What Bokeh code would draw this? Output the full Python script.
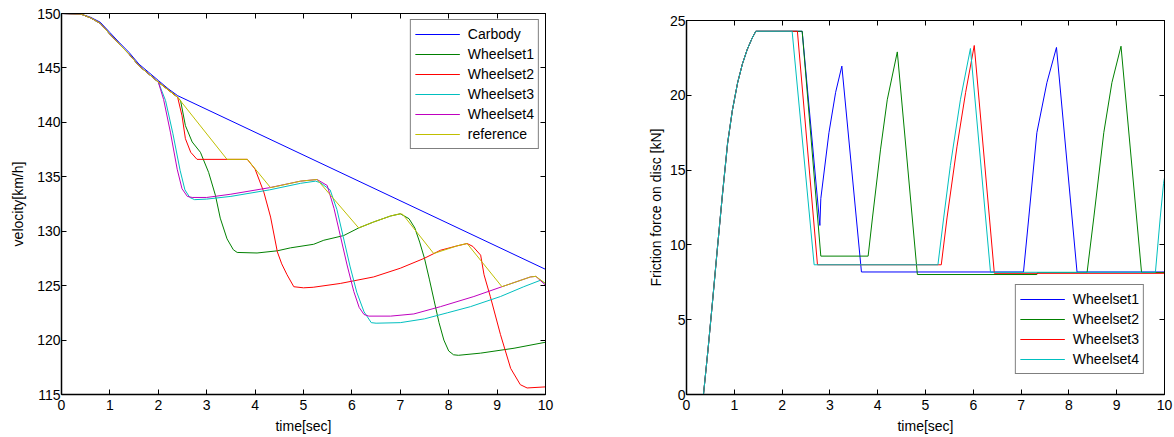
from bokeh.plotting import figure
from bokeh.models import (LinearAxis, Range1d, Legend, LegendItem, FixedTicker,
                          CustomLabelingPolicy)
from bokeh.layouts import row, column
from bokeh.embed import file_html
from bokeh.resources import INLINE

# ---------------- left chart data: velocity [km/h] vs time [sec] ----------------
carbody_t = [0, 0.4, 0.6, 0.8, 1.0, 1.2, 1.4, 1.6, 1.8, 2.0, 2.2, 2.4, 10]
carbody_v = [150, 149.95, 149.65, 149.2, 148.25, 147.3, 146.4, 145.35, 144.6, 143.85, 143.1, 142.45, 126.5]

wheel_shared_t = [0, 0.4, 0.6, 0.8, 1.0, 1.2, 1.4, 1.6, 1.8, 2.0]
wheel_shared_v = [150, 149.95, 149.6, 149.1, 148.1, 147.15, 146.25, 145.2, 144.45, 143.7]

ws1_t = [2.2, 2.4, 2.46, 2.56, 2.70, 2.87, 3.04, 3.18, 3.28, 3.42, 3.55, 3.63, 4.04, 4.46, 4.73, 5.21,
         5.42, 5.83, 6.14, 6.45, 6.80, 7.0, 7.18, 7.3, 7.4, 7.5, 7.6, 7.7, 7.8, 7.9, 8.0, 8.1, 8.2,
         8.66, 9.35, 10]
ws1_v = [143.0, 142.3, 142.0, 139.7, 138.2, 137.25, 135.4, 133.3, 131.2, 129.3, 128.3, 128.05, 128.0,
         128.2, 128.47, 128.8, 129.17, 129.6, 130.3, 130.85, 131.4, 131.6, 131.15, 130.3, 129.0, 127.5,
         125.6, 123.6, 121.6, 120.0, 119.0, 118.65, 118.6, 118.8, 119.25, 119.8]

ws2_t = [2.2, 2.4, 2.49, 2.56, 2.67, 2.80, 3.84, 4.0, 4.18, 4.32, 4.46, 4.55, 4.66, 4.80, 5.0, 5.2,
         5.76, 6.45, 7.0, 7.49, 7.83, 8.17, 8.38, 8.5, 8.66, 8.73, 8.86, 9.07, 9.28, 9.48, 9.62, 10]
ws2_v = [143.0, 142.3, 140.6, 138.5, 137.25, 136.6, 136.6, 135.7, 133.6, 131.3, 128.1, 127.0, 126.0,
         124.9, 124.8, 124.85, 125.2, 125.8, 126.6, 127.5, 128.25, 128.65, 128.87, 128.6, 127.8, 126.0,
         124.0, 120.5, 117.4, 115.9, 115.6, 115.7]

ws3_t = [2.15, 2.3, 2.45, 2.55, 2.65, 2.75, 3.0, 3.5, 4.3, 4.94, 5.25, 5.35, 5.55, 5.69, 5.82, 5.96,
         6.10, 6.25, 6.4, 6.5, 7.0, 7.5, 7.97, 8.45, 9.07, 9.55, 9.90, 10]
ws3_v = [142.0, 139.0, 135.6, 133.8, 133.1, 132.9, 132.95, 133.2, 133.8, 134.4, 134.6, 134.45, 133.8,
         132.0, 129.5, 126.8, 124.4, 122.6, 121.6, 121.55, 121.6, 121.95, 122.5, 123.07, 124.0, 124.9,
         125.5, 125.2]

ws4_t = [2.11, 2.25, 2.39, 2.49, 2.6, 2.7, 3.0, 3.5, 4.3, 4.94, 5.28, 5.49, 5.63, 5.76, 5.90, 6.04,
         6.15, 6.25, 6.35, 6.8, 7.28, 7.83, 8.52, 9.10, 9.69, 9.8, 10]
ws4_v = [142.1, 139.1, 135.7, 133.9, 133.2, 133.1, 133.1, 133.4, 134.0, 134.6, 134.75, 134.2, 132.1,
         129.6, 126.9, 124.45, 123.0, 122.35, 122.2, 122.2, 122.4, 123.07, 124.0, 124.9, 125.8, 125.85,
         125.05]

ref_t = [2.2, 2.4, 3.42, 3.84, 4.32, 4.94, 5.28, 6.14, 6.45, 6.80, 7.0, 7.05, 7.69, 8.17, 8.38, 9.10,
         9.69, 9.8, 10]
ref_v = [143.0, 142.3, 136.6, 136.6, 134.0, 134.6, 134.75, 130.3, 130.85, 131.4, 131.6, 131.55, 127.95,
         128.65, 128.87, 124.9, 125.8, 125.85, 125.2]

vel_names = ["Carbody", "Wheelset1", "Wheelset2", "Wheelset3", "Wheelset4", "reference"]
vel_colors = ["#0000ff", "#008000", "#ff0000", "#00bfbf", "#bf00bf", "#bfbf00"]
vel_yticks = [115, 120, 125, 130, 135, 140, 145, 150]
time_ticks = [0, 1, 2, 3, 4, 5, 6, 7, 8, 9, 10]

# ---------------- right chart data: friction force [kN] vs time [sec] ----------------
ramp_t = [0, 0.355, 0.45, 0.55, 0.65, 0.75, 0.86, 0.96, 1.07, 1.17, 1.27, 1.37, 1.45]
ramp_f = [0, 0, 3.0, 6.4, 9.9, 13.3, 16.8, 19.0, 20.85, 22.1, 23.06, 23.8, 24.28]

fr1_t = [2.42, 2.79, 2.81, 2.98, 3.12, 3.25, 3.66, 7.05, 7.16, 7.33, 7.54, 7.74, 8.17, 10]
fr1_f = [24.28, 11.3, 13.1, 17.5, 20.2, 21.95, 8.19, 8.19, 11.8, 17.5, 20.85, 23.2, 8.19, 8.19]

fr2_t = [2.42, 2.81, 3.80, 3.89, 4.06, 4.20, 4.41, 4.83, 7.33, 7.34, 8.38, 8.52, 8.73, 8.90, 9.09,
         9.52, 10]
fr2_f = [24.28, 9.25, 9.25, 11.8, 16.4, 19.7, 22.9, 8.02, 8.02, 8.15, 8.15, 11.8, 17.5, 20.85, 23.28,
         8.15, 8.15]

fr3_t = [2.32, 2.74, 5.33, 5.45, 5.66, 5.84, 6.02, 6.44, 10]
fr3_f = [24.28, 8.67, 8.67, 11.8, 16.6, 20.2, 23.33, 8.1, 8.1]

fr4_t = [2.21, 2.67, 5.26, 5.38, 5.52, 5.73, 5.94, 6.36, 9.81, 9.91, 9.98, 10]
fr4_f = [24.28, 8.67, 8.67, 11.8, 15.3, 19.7, 23.13, 8.17, 8.17, 11.8, 14.1, 14.5]

fr_names = ["Wheelset1", "Wheelset2", "Wheelset3", "Wheelset4"]
fr_colors = ["#0000ff", "#008000", "#ff0000", "#00bfbf"]
fr_yticks = [0, 5, 10, 15, 20, 25]

FONT = "Liberation Sans"
FS = "14px"


def style_main_axis(ax, ticks, label):
    ax.ticker = FixedTicker(ticks=ticks)
    ax.axis_label = label
    ax.axis_label_text_font = FONT
    ax.axis_label_text_font_size = FS
    ax.axis_label_text_font_style = "normal"
    ax.axis_label_text_color = "black"
    ax.major_label_text_font = FONT
    ax.major_label_text_font_size = FS
    ax.major_label_text_color = "black"
    ax.axis_line_color = "black"
    ax.axis_line_width = 1.5
    ax.major_tick_line_color = "black"
    ax.major_tick_in = 5
    ax.major_tick_out = 0
    ax.minor_tick_line_color = None


def add_mirror_axis(p, ticks, place):
    # tick marks only (MATLAB box style): no labels are drawn on these axes
    no_labels = CustomLabelingPolicy(code="return new Set()")
    ax = LinearAxis(ticker=FixedTicker(ticks=ticks), major_label_text_font_size="1px",
                    major_label_policy=no_labels, major_label_standoff=0,
                    major_tick_in=5, major_tick_out=0,
                    minor_tick_line_color=None, axis_line_color="black",
                    major_tick_line_color="black", axis_label=None)
    p.add_layout(ax, place)


def make_fig(width, height, ml, mr, mt, mb, yr):
    p = figure(width=width, height=height, x_range=Range1d(0, 10), y_range=Range1d(*yr),
               output_backend="svg", toolbar_location=None,
               min_border_left=ml, min_border_right=mr, min_border_top=mt, min_border_bottom=mb)
    p.xgrid.grid_line_color = None
    p.ygrid.grid_line_color = None
    p.outline_line_color = "black"
    p.outline_line_width = 1
    p.background_fill_color = "white"
    p.border_fill_color = "white"
    return p


# ---------------- left figure ----------------
p1 = make_fig(568, 436, 61, 23, 13, 40, (115, 150))
style_main_axis(p1.xaxis[0], time_ticks, "time[sec]")
style_main_axis(p1.yaxis[0], vel_yticks, "velocity[km/h]")
p1.xaxis[0].major_label_standoff = 5
p1.xaxis[0].axis_label_standoff = 5
p1.yaxis[0].major_label_standoff = 1
p1.yaxis[0].axis_label_standoff = 8
add_mirror_axis(p1, time_ticks, "above")
add_mirror_axis(p1, vel_yticks, "right")

vel_series = [
    (carbody_t, carbody_v),
    (wheel_shared_t + ws1_t, wheel_shared_v + ws1_v),
    (wheel_shared_t + ws2_t, wheel_shared_v + ws2_v),
    (wheel_shared_t + ws3_t, wheel_shared_v + ws3_v),
    (wheel_shared_t + ws4_t, wheel_shared_v + ws4_v),
    (wheel_shared_t + ref_t, wheel_shared_v + ref_v),
]
items1 = []
for (tx, vy), name, col in zip(vel_series, vel_names, vel_colors):
    r = p1.line(tx, vy, line_color=col, line_width=1)
    items1.append(LegendItem(label=name, renderers=[r]))

leg1 = Legend(items=items1, location="top_right", margin=6, padding=4, spacing=0,
              label_height=20, glyph_height=20, glyph_width=45, label_standoff=8,
              label_text_font=FONT, label_text_font_size=FS, label_text_color="black",
              border_line_color="black", border_line_width=1, background_fill_color="white",
              background_fill_alpha=1.0)
p1.add_layout(leg1)

# ---------------- right figure ----------------
p2 = make_fig(606, 436, 118, 10, 20, 40, (0, 25))
style_main_axis(p2.xaxis[0], time_ticks, "time[sec]")
style_main_axis(p2.yaxis[0], fr_yticks, "Friction force on disc [kN]")
p2.xaxis[0].major_label_standoff = 5
p2.xaxis[0].axis_label_standoff = 5
p2.yaxis[0].major_label_standoff = 1
p2.yaxis[0].axis_label_standoff = 3
add_mirror_axis(p2, time_ticks, "above")
add_mirror_axis(p2, fr_yticks, "right")

fr_series = [
    (ramp_t + fr1_t, ramp_f + fr1_f),
    (ramp_t + fr2_t, ramp_f + fr2_f),
    (ramp_t + fr3_t, ramp_f + fr3_f),
    (ramp_t + fr4_t, ramp_f + fr4_f),
]
items2 = []
for (tx, fy), name, col in zip(fr_series, fr_names, fr_colors):
    r = p2.line(tx, fy, line_color=col, line_width=1)
    items2.append(LegendItem(label=name, renderers=[r]))

leg2 = Legend(items=items2, location="bottom_right", margin=20, padding=4, spacing=0,
              label_height=20, glyph_height=20, glyph_width=45, label_standoff=8,
              label_text_font=FONT, label_text_font_size=FS, label_text_color="black",
              border_line_color="black", border_line_width=1, background_fill_color="white",
              background_fill_alpha=1.0)
p2.add_layout(leg2)

layout = row(column(p1), column(p2))
open("out.html", "w").write(file_html(layout, INLINE))
